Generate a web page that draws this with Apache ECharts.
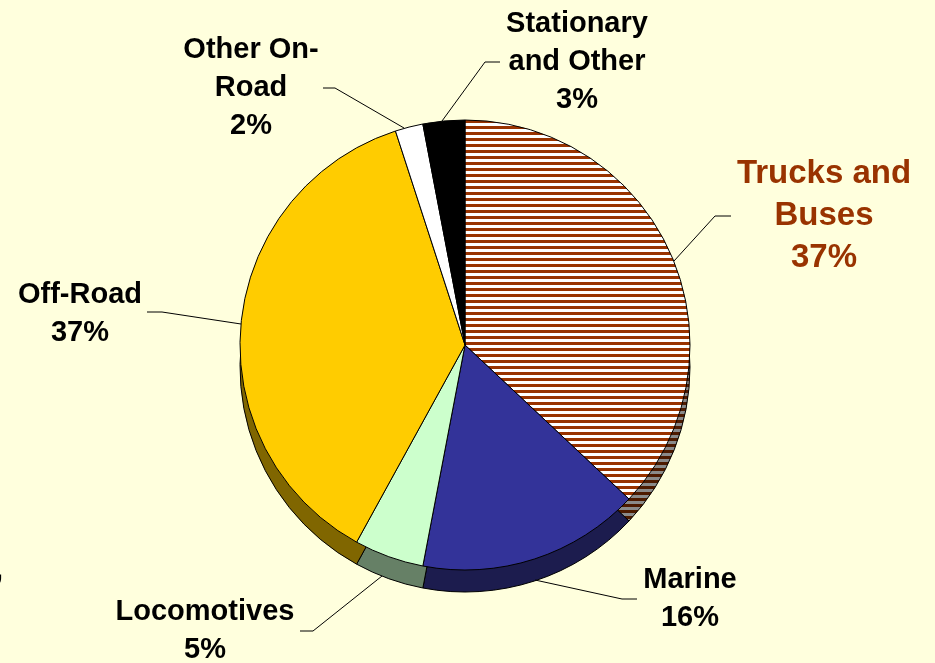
<!DOCTYPE html>
<html>
<head>
<meta charset="utf-8">
<script src="https://cdn.jsdelivr.net/npm/echarts@6/dist/echarts.min.js"></script>
<style>
  html, body { margin: 0; padding: 0; background: #ffffdd; }
  #chart { width: 935px; height: 663px; }
</style>
</head>
<body>
<div id="chart"></div>
<script>
// categories and shares (%), clockwise from 12 o'clock
const categories = ['Trucks and\nBuses', 'Marine', 'Locomotives', 'Off-Road', 'Other On-\nRoad', 'Stationary\nand Other'];
const shares = [37, 16, 5, 37, 2, 3];

// colours of the top face and of the side wall
const topColors = ['stripes', '#333399', '#ccffcc', '#ffcc00', '#ffffff', '#000000'];
const sideColors = ['stripesDark', '#1c1c4e', '#668066', '#806600', '#808080', '#000000'];

// label centre and guide line per slice
const labelPos = [
  { x: 824, y: 216, line: [[674, 261], [715, 216], [731, 216]] },
  { x: 690, y: 599, line: [[535, 580], [622, 599], [637, 599]] },
  { x: 205, y: 631, line: [[382, 576], [313, 631], [300, 631]] },
  { x: 80, y: 314, line: [[241, 324], [162, 312], [147, 312]] },
  { x: 251, y: 88, line: [[404, 128], [335, 88], [323, 88]] },
  { x: 577, y: 62, line: [[442, 121], [485, 62], [500, 62]] }
];

function stripes(a, b) {
  const c = document.createElement('canvas');
  c.width = 8;
  c.height = 6;
  const g = c.getContext('2d');
  g.fillStyle = b;
  g.fillRect(0, 0, 8, 6);
  g.fillStyle = a;
  g.fillRect(0, 0, 8, 3);
  return { image: c, repeat: 'repeat' };
}

const patterns = {
  stripes: stripes('#993300', '#ffffff'),
  stripesDark: stripes('#4d1a00', '#8a8a8a')
};
const pick = c => patterns[c] || c;

const chart = echarts.init(document.getElementById('chart'));

const center = [465, 345];
const depth = 22;
const radius = 225;

chart.setOption({
  backgroundColor: '#ffffdd',
  animation: false,
  graphic: [{
    type: 'text',
    left: -5,
    top: 556,
    style: { text: ',', font: 'bold 29px "Liberation Sans"', fill: '#000' }
  }],
  series: [
    {
      // side wall, drawn as the same pie shifted down
      type: 'pie',
      silent: true,
      z: 1,
      center: [center[0], center[1] + depth],
      radius: radius,
      startAngle: 90,
      label: { show: false },
      labelLine: { show: false },
      itemStyle: { borderColor: '#000', borderWidth: 1 },
      data: shares.map((v, i) => ({
        name: categories[i],
        value: v,
        itemStyle: { color: pick(sideColors[i]) }
      }))
    },
    {
      type: 'pie',
      z: 2,
      center: center,
      radius: radius,
      startAngle: 90,
      avoidLabelOverlap: false,
      itemStyle: { borderColor: '#000', borderWidth: 1 },
      label: {
        show: true,
        formatter: '{b}\n{c}%',
        fontFamily: '"Liberation Sans", Arial, sans-serif',
        fontWeight: 'bold',
        fontSize: 29,
        lineHeight: 38,
        color: '#000',
        align: 'center'
      },
      labelLine: { show: true, lineStyle: { color: '#000', width: 1 } },
      labelLayout: function (p) {
        const l = labelPos[p.dataIndex];
        return {
          x: l.x,
          y: l.y,
          align: 'center',
          verticalAlign: 'middle',
          labelLinePoints: l.line
        };
      },
      emphasis: { disabled: true },
      data: shares.map((v, i) => ({
        name: categories[i],
        value: v,
        itemStyle: { color: pick(topColors[i]) },
        label: i === 0 ? { color: '#993300', fontSize: 33, lineHeight: 42 } : undefined
      }))
    }
  ]
});
</script>
</body>
</html>
